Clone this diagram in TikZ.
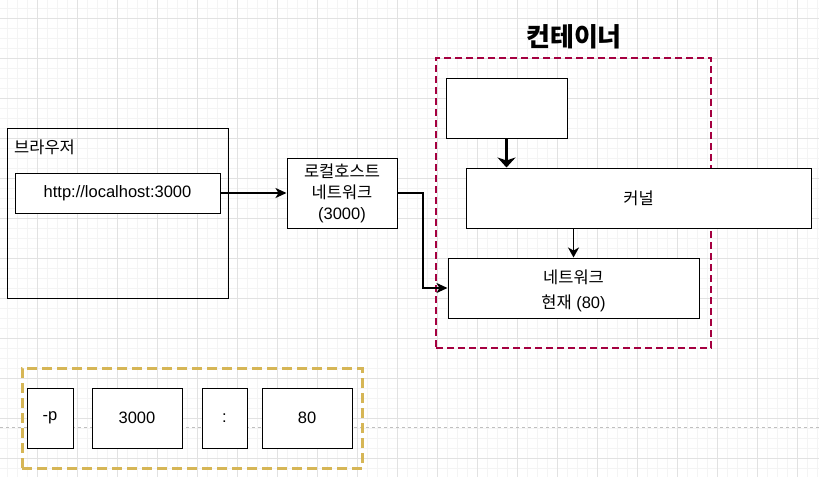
\documentclass[tikz,border=0pt]{standalone}
\usepackage{fontspec}
\setmainfont{Liberation Sans}
\newfontfamily\kr{Noto Sans CJK KR}
\usetikzlibrary{arrows.meta}
\definecolor{crim}{HTML}{A50040}
\definecolor{gold}{HTML}{D6B656}
\definecolor{gmin}{HTML}{F4F4F4}
\definecolor{gmaj}{HTML}{E2E2E2}
\tikzset{
  box/.style={draw=black, line width=1pt, fill=white, inner sep=0pt,
    font=\fontsize{16.5}{21}\selectfont, align=center},
  conn/.style={draw=black, line width=1.8pt, -{Stealth[length=11pt,width=10pt,inset=3pt]}},
  thickconn/.style={draw=black, line width=3.5pt, -{Stealth[length=10pt,width=18pt,inset=3pt]}},
  thinconn/.style={draw=black, line width=1.5pt, -{Stealth[length=10pt,width=11pt,inset=3pt]}},
}
\begin{document}
\begin{tikzpicture}[x=1pt,y=-1pt]
\useasboundingbox (0,0) rectangle (819,477);
\fill[white] (0,0) rectangle (819,477);
% grid
\foreach \x in {7,17,...,817} \draw[gmin, line width=0.8pt] (\x,0) -- (\x,477);
\foreach \y in {8,18,...,477} \draw[gmin, line width=0.8pt] (0,\y) -- (819,\y);
\foreach \x in {37,77,...,817} \draw[gmaj, line width=0.8pt] (\x,0) -- (\x,477);
\foreach \y in {18,58,...,477} \draw[gmaj, line width=0.8pt] (0,\y) -- (819,\y);
\draw[gray!50, line width=0.8pt, dash pattern=on 3pt off 3pt] (0,427) -- (819,427);

% container
\node[draw=crim, line width=2pt, dash pattern=on 7pt off 4pt, minimum width=275pt, minimum height=290pt, inner sep=0pt] (cont) at (573.5,203) {};
\node[font=\fontsize{26}{30}\selectfont\kr\bfseries] (title) at (574,37) {컨테이너};

% browser
\node[draw=black, line width=1pt, minimum width=221pt, minimum height=170pt, inner sep=0pt] (browser) at (117.5,213) {};
\node[anchor=west, inner sep=0pt, font=\fontsize{16.5}{20}\selectfont\kr] (blabel) at (14,147) {브라우저};
\node[box, minimum width=205pt, minimum height=40pt] (url) at (117.5,193) {http://localhost:3000};

% localhost network
\node[box, minimum width=110pt, minimum height=70pt] (local) at (342,193) {{\kr 로컬호스트}\\{\kr 네트워크}\\(3000)};

% inside container
\node[box, minimum width=121pt, minimum height=60pt] (top) at (506.5,108) {};
\node[box, minimum width=345pt, minimum height=60pt] (kernel) at (638.5,198) {\kr 커널};
\node[box, minimum width=251pt, minimum height=60pt] (net) at (573.5,288) {};
\node[inner sep=0pt, align=center, font=\fontsize{16.5}{25}\selectfont] (nettext) at (573.5,291) {{\kr 네트워크}\\{\kr 현재} (80)};

% connectors
\draw[conn] (url.east) -- (local.west);
\coordinate (bend) at (423,193);
\draw[conn] (local.east) -- (bend) |- (net.west);
\draw[thickconn] (top.south) -- (top.south |- kernel.north);
\draw[thinconn] (kernel.south -| net.north) -- (net.north);

% bottom group
\node[draw=gold, line width=3pt, dash pattern=on 10pt off 5pt, minimum width=340pt, minimum height=100pt, inner sep=0pt] (group) at (192,418) {};
\node[box, minimum width=46pt, minimum height=60pt] (p) at (50,418) {-p};
\node[box, minimum width=90pt, minimum height=60pt] (hp) at (137,418) {3000};
\node[box, minimum width=45pt, minimum height=60pt] (colon) at (224.5,418) {:};
\node[box, minimum width=90pt, minimum height=60pt] (cp) at (307,418) {80};
\end{tikzpicture}
\end{document}
